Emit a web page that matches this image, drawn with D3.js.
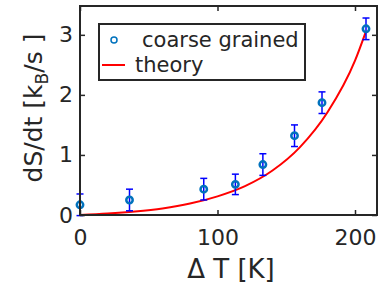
<html>
<head>
<style>
body { margin: 0; background: white; }
text { font-family: "DejaVu Sans", sans-serif; fill: #262626; }
</style>
<script src="https://d3js.org/d3.v7.min.js"></script>
</head>
<body>
<div id="viz"></div>
<script>
// measured points (coarse grained)
var dT = [0, 36, 90, 113, 133, 156, 176, 208];
var rate = [0.17, 0.25, 0.43, 0.51, 0.84, 1.32, 1.87, 3.1];
var err = [0.18, 0.18, 0.18, 0.17, 0.18, 0.18, 0.18, 0.18];

// theory curve
var theoryT = [0, 20, 40, 60, 80, 100, 120, 140, 160, 180, 200, 208];
var theoryS = [0, 0.024, 0.059, 0.11, 0.19, 0.31, 0.48, 0.74, 1.13, 1.71, 2.57, 3.06];

var xTicks = [0, 100, 200];
var yTicks = [0, 1, 2, 3];

var width = 381, height = 293;
var m = {left: 80, right: 4, top: 6, bottom: 78};

var svg = d3.select('#viz').append('svg')
    .attr('width', width)
    .attr('height', height);

var x = d3.scaleLinear().domain([0, 216]).range([m.left, width - m.right]);
var y = d3.scaleLinear().domain([0, 3.48]).range([height - m.bottom, m.top]);

var plot = svg.append('g');

// theory line
var line = d3.line()
    .x(function(d, i) { return x(theoryT[i]); })
    .y(function(d) { return y(d); })
    .curve(d3.curveMonotoneX);

plot.append('path')
    .datum(theoryS)
    .attr('d', line)
    .attr('fill', 'none')
    .attr('stroke', '#ff0000')
    .attr('stroke-width', 2);

// error bars
var eb = plot.append('g').selectAll('g')
    .data(dT)
  .enter().append('g')
    .attr('stroke', '#0000ff')
    .attr('stroke-width', 1.5);

eb.append('line')
    .attr('x1', function(d) { return x(d); })
    .attr('x2', function(d) { return x(d); })
    .attr('y1', function(d, i) { return y(rate[i] - err[i]); })
    .attr('y2', function(d, i) { return y(rate[i] + err[i]); });
[-1, 1].forEach(function(s) {
  eb.append('line')
    .attr('x1', function(d) { return x(d) - 3.5; })
    .attr('x2', function(d) { return x(d) + 3.5; })
    .attr('y1', function(d, i) { return y(rate[i] + s * err[i]); })
    .attr('y2', function(d, i) { return y(rate[i] + s * err[i]); });
});

plot.append('g').selectAll('circle')
    .data(dT)
  .enter().append('circle')
    .attr('cx', function(d) { return x(d); })
    .attr('cy', function(d, i) { return y(rate[i]); })
    .attr('r', 3.2)
    .attr('fill', 'none')
    .attr('stroke', '#0072BD')
    .attr('stroke-width', 2.5);

// axes box
var axCol = '#262626';
svg.append('rect')
    .attr('x', m.left).attr('y', m.top)
    .attr('width', width - m.right - m.left)
    .attr('height', height - m.bottom - m.top)
    .attr('fill', 'none')
    .attr('stroke', axCol)
    .attr('stroke-width', 2);

var fmt = d3.format('d');
var xAxis = d3.axisBottom(x).tickValues(xTicks).tickSize(-5).tickPadding(14).tickFormat(fmt);
var gx = svg.append('g')
    .attr('transform', 'translate(0,' + (height - m.bottom) + ')')
    .call(xAxis);
var gxt = svg.append('g')
    .attr('transform', 'translate(0,' + m.top + ')')
    .call(d3.axisTop(x).tickValues(xTicks).tickSize(-5).tickFormat(''));

var yAxis = d3.axisLeft(y).tickValues(yTicks).tickSize(-5).tickPadding(7).tickFormat(fmt);
var gy = svg.append('g')
    .attr('transform', 'translate(' + m.left + ',0)')
    .call(yAxis);
var gyr = svg.append('g')
    .attr('transform', 'translate(' + (width - m.right) + ',0)')
    .call(d3.axisRight(y).tickValues(yTicks).tickSize(-5).tickFormat(''));

[gx, gxt, gy, gyr].forEach(function(g) {
  g.select('.domain').remove();
  g.selectAll('line').attr('stroke', axCol).attr('stroke-width', 1.5);
  g.selectAll('text').attr('font-size', 22).attr('fill', axCol)
    .style('font-family', '"DejaVu Sans", sans-serif');
});

// axis labels
svg.append('text')
    .attr('x', 231)
    .attr('y', 278)
    .attr('text-anchor', 'middle')
    .attr('font-size', 26)
    .text('\u0394 T [K]');

var yl = svg.append('text')
    .attr('transform', 'translate(42,108) rotate(-90)')
    .attr('text-anchor', 'middle')
    .attr('font-size', 25);
yl.append('tspan').text('dS/dt [k');
yl.append('tspan').attr('font-size', 17).attr('dy', 6).text('B');
yl.append('tspan').attr('dy', -6).text('/s ]');

// legend
var lg = svg.append('g');
lg.append('rect')
    .attr('x', 99).attr('y', 24)
    .attr('width', 206).attr('height', 56)
    .attr('fill', 'white')
    .attr('stroke', axCol)
    .attr('stroke-width', 2);
lg.append('circle')
    .attr('cx', 114).attr('cy', 40).attr('r', 3)
    .attr('fill', 'none').attr('stroke', '#0072BD').attr('stroke-width', 1.5);
lg.append('line')
    .attr('x1', 102).attr('x2', 125).attr('y1', 65).attr('y2', 65)
    .attr('stroke', '#ff0000').attr('stroke-width', 2);
lg.append('text').attr('x', 142).attr('y', 47).attr('font-size', 21).attr('fill', 'black').text('coarse grained');
lg.append('text').attr('x', 135).attr('y', 72).attr('font-size', 21).attr('fill', 'black').text('theory');
</script>
</body>
</html>
